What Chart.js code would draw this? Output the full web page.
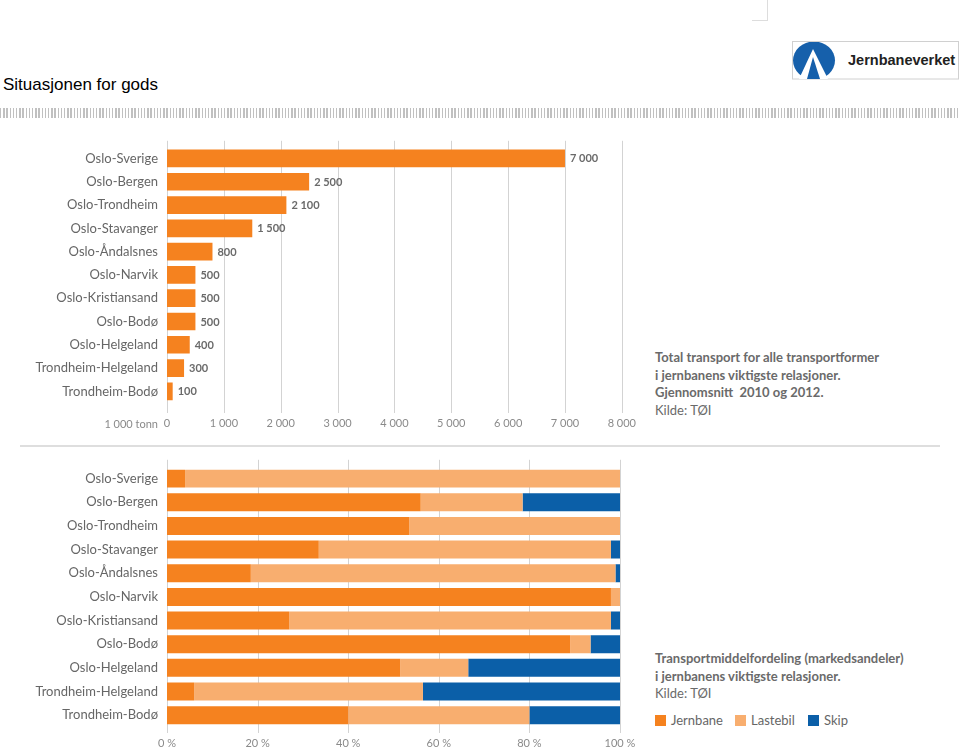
<!DOCTYPE html>
<html><head><meta charset="utf-8">
<script src="https://cdn.jsdelivr.net/npm/chart.js@4"></script>
<style>
html,body{margin:0;padding:0;background:#fff;width:960px;height:750px;overflow:hidden;position:relative;font-family:Lato,"Open Sans",sans-serif}
.abs{position:absolute}
#title{left:3px;top:75px;font-family:"Liberation Sans",Arial,sans-serif;font-size:17px;color:#000;white-space:nowrap}
#stripes{left:0;top:108px;width:960px;height:10px;background:repeating-linear-gradient(90deg,#c0c0c0 0 1.5px,#fff 1.5px 3.2px)}
#corner{left:752px;top:-1px;width:15px;height:21px;border-right:1px solid #ddd;border-bottom:1px solid #ddd}
#sep{left:20px;top:445px;width:920px;height:2px;background:#dedede}
.note{color:#6a6a6a;font-size:13px;line-height:17.5px;white-space:nowrap}
.note b{font-weight:700}
#legend{left:655px;top:711px;font-size:13px;color:#666;white-space:nowrap}
#legend span.item{position:absolute;top:0;line-height:18px}
#legend i{display:inline-block;width:11px;height:11px;margin-right:5px;vertical-align:-1px}
</style></head><body>
<div id="corner" class="abs"></div>
<div id="title" class="abs">Situasjonen for gods</div>
<svg class="abs" style="left:792px;top:41px" width="168" height="39" viewBox="0 0 168 39">
  <defs><clipPath id="cp"><rect x="1" y="1" width="166" height="37"/></clipPath></defs>
  <rect x="0.5" y="0.5" width="166" height="37.5" fill="#fff" stroke="#d0d0d0"/>
  <g clip-path="url(#cp)">
    <ellipse cx="22" cy="19.5" rx="21" ry="19" fill="#1660ab"/>
    <polygon points="21,8 7,38 36,38" fill="#fff"/>
    <polygon points="21,16 15,38 28,38" fill="#1660ab"/>
  </g>
  <text x="56" y="24" font-family="Liberation Sans, Arial, sans-serif" font-weight="700" font-size="14.5" fill="#222">Jernbaneverket</text>
</svg>
<div id="stripes" class="abs"></div>

<div class="abs" style="left:0;top:130px"><canvas id="c1" width="650" height="305"></canvas></div>
<div id="sep" class="abs"></div>
<div class="abs" style="left:0;top:450px"><canvas id="c2" width="650" height="300"></canvas></div>

<div class="abs note" style="left:655px;top:349px"><b>Total transport for alle transportformer</b><br><b>i jernbanens viktigste relasjoner.</b><br><b>Gjennomsnitt&nbsp; 2010 og 2012.</b><br>Kilde: TØI</div>
<div class="abs note" style="left:655px;top:650px"><b>Transportmiddelfordeling (markedsandeler)</b><br><b>i jernbanens viktigste relasjoner.</b><br>Kilde: TØI</div>
<div id="legend" class="abs"></div>

<script>
// ---- data ----
const routes = ['Oslo-Sverige','Oslo-Bergen','Oslo-Trondheim','Oslo-Stavanger','Oslo-Åndalsnes','Oslo-Narvik','Oslo-Kristiansand','Oslo-Bodø','Oslo-Helgeland','Trondheim-Helgeland','Trondheim-Bodø'];
const totalTonnes = [7000,2500,2100,1500,800,500,500,500,400,300,100];
const totalTicks = [0,1000,2000,3000,4000,5000,6000,7000,8000];
const totalUnit = '1 000 tonn';
const seriesNames = ['Jernbane','Lastebil','Skip'];
const jernbaneShare = [4,56,53.5,33.5,18.5,98,27,89,51.5,6,40];
const lastebilShare = [96,22.5,46.5,64.5,80.5,2,71,4.5,15,50.5,40];
const skipShare = [0,21.5,0,2,1,0,2,6.5,33.5,43.5,20];
const shareTicks = [0,20,40,60,80,100];

// ---- styles ----
const ORANGE = '#f5821f', LIGHT = '#f8ae6f', BLUE = '#0b5fa8';
const seriesColors = [ORANGE, LIGHT, BLUE];
Chart.defaults.font.family = 'Lato, "Open Sans", sans-serif';

const fmt = v => String(v).replace(/\B(?=(\d{3})+(?!\d))/g, ' ');

function gridPlugin(extTop, extBottom){
  return {
    id:'extgrid',
    beforeDatasetsDraw(chart){
      const {ctx, chartArea:a, scales:{x}} = chart;
      ctx.save(); ctx.strokeStyle='#d3d3d3'; ctx.lineWidth=1;
      x.ticks.forEach(t=>{
        const px = Math.round(x.getPixelForValue(t.value)) + 0.5;
        ctx.beginPath(); ctx.moveTo(px, a.top-extTop); ctx.lineTo(px, a.bottom+extBottom); ctx.stroke();
      });
      ctx.restore();
    }
  };
}

const valueLabels = {
  id:'valueLabels',
  afterDatasetsDraw(chart){
    const {ctx} = chart;
    const meta = chart.getDatasetMeta(0);
    ctx.save();
    ctx.font = '700 11px Lato, "Open Sans", sans-serif';
    ctx.fillStyle = '#6a6a6a'; ctx.textAlign='left'; ctx.textBaseline='middle';
    meta.data.forEach((el,i)=>{ ctx.fillText(fmt(chart.data.datasets[0].data[i]), el.x+5, el.y+0.5); });
    ctx.restore();
  }
};

const unitLabel = {
  id:'unitLabel',
  afterDraw(chart){
    const {ctx, chartArea:a} = chart;
    ctx.save();
    ctx.font = '11px Lato, "Open Sans", sans-serif';
    ctx.fillStyle = '#8a8a8a'; ctx.textAlign='right'; ctx.textBaseline='middle';
    ctx.fillText(totalUnit, a.left-9, a.bottom+21);
    ctx.restore();
  }
};

function xTickCfg(list, cb, pad){
  return {
    afterBuildTicks(s){ s.ticks = list.map(v=>({value:v})); },
    ticks:{callback:cb, color:'#8a8a8a', font:{size:11}, padding:pad, maxRotation:0, autoSkip:false},
    grid:{display:false, drawTicks:false},
    border:{display:false}
  };
}

new Chart(document.getElementById('c1'), {
  type:'bar',
  data:{labels:routes, datasets:[{label:'Total', data:totalTonnes, backgroundColor:ORANGE, barPercentage:0.76, categoryPercentage:1}]},
  options:{
    responsive:false, animation:false, indexAxis:'y',
    layout:{padding:{top:11, right:28, left:0, bottom:0}},
    plugins:{legend:{display:false}, tooltip:{enabled:false}},
    scales:{
      x:Object.assign({min:totalTicks[0], max:totalTicks[totalTicks.length-1], afterFit(s){s.height=32;}},
        xTickCfg(totalTicks, v=>fmt(v), 14)),
      y:{ticks:{color:'#666', font:{size:13}, padding:9}, grid:{display:false, drawTicks:false}, border:{display:false}, afterFit(s){s.width=167;}}
    }
  },
  plugins:[gridPlugin(6,10), valueLabels, unitLabel]
});

const shares = [jernbaneShare, lastebilShare, skipShare];
new Chart(document.getElementById('c2'), {
  type:'bar',
  data:{labels:routes, datasets:seriesNames.map((n,i)=>({label:n, data:shares[i], backgroundColor:seriesColors[i], barPercentage:0.76, categoryPercentage:1}))},
  options:{
    responsive:false, animation:false, indexAxis:'y',
    layout:{padding:{top:15, right:30, left:0, bottom:0}},
    plugins:{legend:{display:false}, tooltip:{enabled:false}},
    scales:{
      x:Object.assign({stacked:true, min:0, max:100, afterFit(s){s.height=23;}},
        xTickCfg(shareTicks, v=>v+' %', 9.5)),
      y:{stacked:true, ticks:{color:'#666', font:{size:13}, padding:9}, grid:{display:false, drawTicks:false}, border:{display:false}, afterFit(s){s.width=167;}}
    }
  },
  plugins:[gridPlugin(7,6)]
});

// legend from series arrays
const legendPos = [0, 80, 153];
const lg = document.getElementById('legend');
seriesNames.forEach((n,i)=>{
  const s = document.createElement('span'); s.className='item'; s.style.left = legendPos[i]+'px';
  s.innerHTML = '<i style="background:'+seriesColors[i]+'"></i>'+n;
  lg.appendChild(s);
});
</script>
</body></html>
